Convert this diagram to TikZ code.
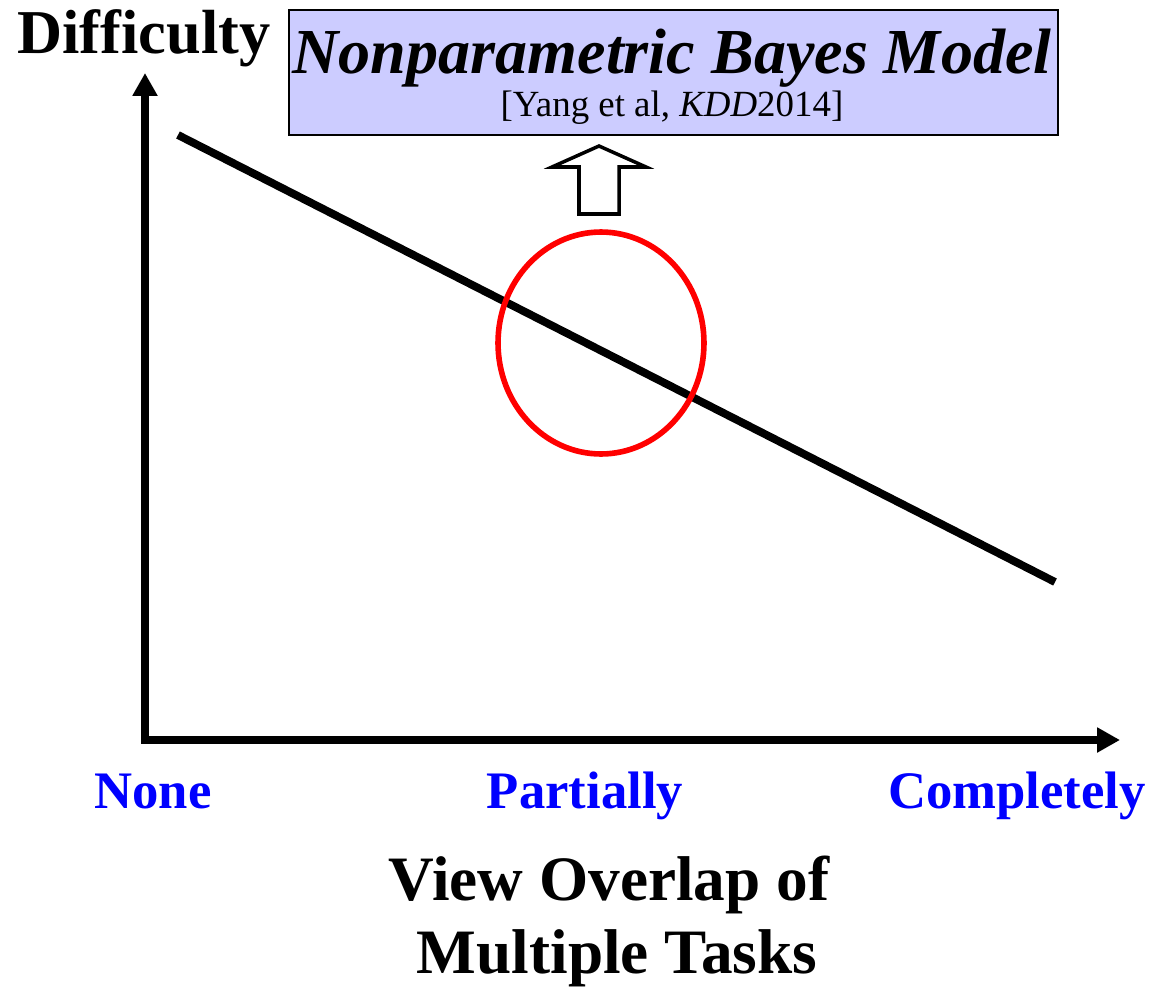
\documentclass[tikz,border=0pt]{standalone}
\usepackage{fontspec}
\setmainfont{Liberation Serif}
\usetikzlibrary{arrows.meta, shapes.geometric, positioning}
\definecolor{boxblue}{RGB}{204,204,255}
\definecolor{lblue}{RGB}{0,0,255}

\begin{document}
\begin{tikzpicture}[
  x=0.02cm, y=-0.02cm,
  axis/.style = {line width=4.5pt, -{Triangle[length=13pt,width=13.5pt]}},
  trend/.style = {line width=4.5pt},
  model box/.style = {draw, line width=1.1pt, fill=boxblue,
    minimum width=15.38cm, minimum height=2.5cm, inner sep=0pt},
  tick/.style = {anchor=base, font=\fontsize{30pt}{32pt}\selectfont\bfseries, text=lblue},
  title/.style = {anchor=base, font=\fontsize{36pt}{40pt}\selectfont\bfseries},
]
\useasboundingbox (0,0) rectangle (1153,987);

% axes
\coordinate (origin) at (145,740);
\coordinate (ytip)   at (145,73);
\coordinate (xtip)   at (1120,740);
\draw[axis] ([yshift=2.25pt]origin) -- (ytip);
\draw[axis] ([xshift=-2.25pt]origin) -- (xtip);

\node[title] (ylab) at (144,53) {\fontsize{35.5pt}{38pt}\selectfont Difficulty};

% trend line
\coordinate (tr-a) at (178,135);
\coordinate (tr-b) at (1055,582);
\draw[trend] (tr-a) -- (tr-b);

% region of interest
\node[ellipse, draw=red, line width=3.2pt, minimum width=4.12cm, minimum height=4.44cm,
  inner sep=0pt] (part) at (601,343) {};

% model box
\node[model box] (model) at (673.5,72.5) {};
\node[anchor=base, font=\fontsize{36.5pt}{40pt}\selectfont\bfseries\itshape] (model-t)
  at (672,73) {Nonparametric Bayes Model};
\node[anchor=base, font=\fontsize{21pt}{24pt}\selectfont] (model-r)
  at (672,116) {[Yang et al, \textit{KDD}2014]};

% hollow arrow
\draw[line width=2pt, fill=white] (579,214) -- (619,214) -- (619,167) -- (646,167)
  -- (599,146) -- (552,167) -- (579,167) -- cycle;

% ticks
\node[tick] (none) at (153,808) {None};
\node[tick] (partial) at (585,808) {Partially};
\node[tick] (complete) at (1017,808) {Completely};

\node[title] (xlab1) at (609,900) {View Overlap of};
\node[title] (xlab2) at (617,973) {Multiple Tasks};

\end{tikzpicture}
\end{document}
